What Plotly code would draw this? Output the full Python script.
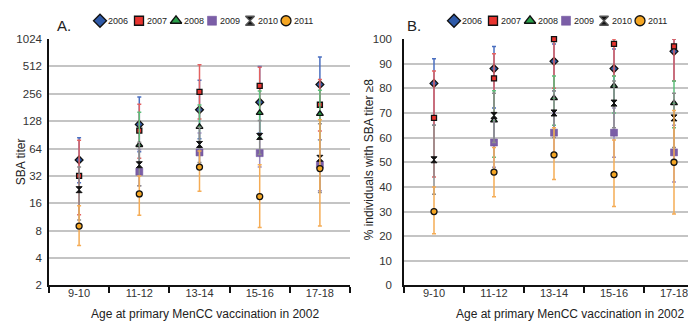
import math
import plotly.graph_objects as go

# ---------------- data ----------------
ages = ["9-10", "11-12", "13-14", "15-16", "17-18"]
years = ["2006", "2007", "2008", "2009", "2010", "2011"]

# Panel A: SBA titer (GMT) with 95% CI (upper / lower)
titer_2006 = [48, 118, 171, 207, 324]
titer_2006_hi = [84, 236, 360, 512, 648]
titer_2006_lo = [27, 59, 82, 95, 160]
titer_2007 = [32, 101, 269, 313, 194]
titer_2007_hi = [79, 197, 533, 500, 367]
titer_2007_lo = [12, 50, 135, 160, 100]
titer_2008 = [None, 70, 111, 158, 154]
titer_2008_hi = [None, 160, 193, 275, 280]
titer_2008_lo = [None, 38, 60, 85, 80]
titer_2009 = [None, 35.6, 58, 57, 42.5]
titer_2009_hi = [None, 62, 95, 90, 80]
titer_2009_lo = [None, 25, 40, 40, 22]
titer_2010 = [22.6, 42.5, 71, 87, 50]
titer_2010_hi = [40, 75, 110, 130, 120]
titer_2010_lo = [10.5, 25, 45, 55, 21]
titer_2011 = [9, 20.3, 40, 19, 38.6]
titer_2011_hi = [15, 32, 60, 42.5, 133]
titer_2011_lo = [5.5, 11.8, 21.7, 8.7, 9]

# Panel B: % individuals with SBA titer >=8 with 95% CI
pct_2006 = [82, 88, 91, 88, 95]
pct_2006_hi = [92, 97, 98, 96, 100]
pct_2006_lo = [65, 72, 79, 75, 83]
pct_2007 = [68, 84, 100, 98, 97]
pct_2007_hi = [87, 94, 100, 100, 100]
pct_2007_lo = [44, 70, 80, 85, 83]
pct_2008 = [None, 67, 76, 81, 74]
pct_2008_hi = [None, 79, 85, 85, 83]
pct_2008_lo = [None, 52, 65, 70, 64]
pct_2009 = [None, 58, 62, 62, 54]
pct_2009_hi = [None, 68, 70, 72, 65]
pct_2009_lo = [None, 48, 52, 52, 42]
pct_2010 = [51, 69, 70, 74, 68]
pct_2010_hi = [65, 78, 79, 83, 78]
pct_2010_lo = [37, 58, 60, 64, 56]
pct_2011 = [30, 46, 53, 45, 50]
pct_2011_hi = [40, 56, 64, 59, 71]
pct_2011_lo = [21, 36, 43, 32, 29]

titer_ticks = [2, 4, 8, 16, 32, 64, 128, 256, 512, 1024]
pct_ticks = [0, 10, 20, 30, 40, 50, 60, 70, 80, 90, 100]

# ---------------- styles ----------------
style = {
    "2006": dict(symbol="diamond", size=6, fill="#2f5aa8", line="#111111", lw=1.3, err="#4a6fc0", lsize=10),
    "2007": dict(symbol="square", size=5, fill="#e8342f", line="#111111", lw=1.3, err="#e36262", lsize=9),
    "2008": dict(symbol="triangle-up", size=6, fill="#2aa04a", line="#111111", lw=1.3, err="#5cbf7a", lsize=10),
    "2009": dict(symbol="square", size=7, fill="#7b5ea7", line="#6a4f98", lw=0.5, err="#9c8cbf", lsize=9),
    "2010": dict(symbol="hourglass", size=6, fill="#111111", line="#111111", lw=1, err="#8c8c8c", lsize=9),
    "2011": dict(symbol="circle", size=6, fill="#f5a623", line="#111111", lw=1.3, err="#f5ac55", lsize=10),
}

A = {
    "2006": (titer_2006, titer_2006_hi, titer_2006_lo),
    "2007": (titer_2007, titer_2007_hi, titer_2007_lo),
    "2008": (titer_2008, titer_2008_hi, titer_2008_lo),
    "2009": (titer_2009, titer_2009_hi, titer_2009_lo),
    "2010": (titer_2010, titer_2010_hi, titer_2010_lo),
    "2011": (titer_2011, titer_2011_hi, titer_2011_lo),
}
B = {
    "2006": (pct_2006, pct_2006_hi, pct_2006_lo),
    "2007": (pct_2007, pct_2007_hi, pct_2007_lo),
    "2008": (pct_2008, pct_2008_hi, pct_2008_lo),
    "2009": (pct_2009, pct_2009_hi, pct_2009_lo),
    "2010": (pct_2010, pct_2010_hi, pct_2010_lo),
    "2011": (pct_2011, pct_2011_hi, pct_2011_lo),
}


def errs(v, hi, lo):
    up = [None if a is None else h - a for a, h in zip(v, hi)]
    dn = [None if a is None else a - l for a, l in zip(v, lo)]
    return up, dn


W, H = 696, 321
FONT = "Liberation Sans, Arial, sans-serif"
fig = go.Figure()

for panel, data, xa, ya in [("A", A, "x", "y"), ("B", B, "x2", "y2")]:
    for yr in years:
        v, hi, lo = data[yr]
        up, dn = errs(v, hi, lo)
        s = style[yr]
        fig.add_trace(go.Scatter(
            x=ages, y=v, xaxis=xa, yaxis=ya, mode="markers", showlegend=False,
            marker=dict(symbol=s["symbol"], size=s["size"], color=s["fill"],
                        line=dict(color=s["line"], width=s["lw"])),
            error_y=dict(type="data", symmetric=False, array=up, arrayminus=dn,
                         color=s["err"], thickness=1.5, width=2),
            cliponaxis=False,
        ))

# legend rows drawn on a hidden pixel-scaled axis
legend_offsets = [0, 39, 76, 112, 150, 186]
legend_starts = {"A": 92, "B": 446}
for panel, x0 in legend_starts.items():
    xs = [x0 + o for o in legend_offsets]
    for yr, xx in zip(years, xs):
        s = style[yr]
        fig.add_trace(go.Scatter(
            x=[xx], y=[7], xaxis="x3", yaxis="y3", mode="markers", showlegend=False,
            marker=dict(symbol=s["symbol"], size=s["lsize"], color=s["fill"],
                        line=dict(color=s["line"] if yr != "2010" else "#555555",
                                  width=1.3 if yr != "2009" else 0.5)),
            hoverinfo="skip", cliponaxis=False,
        ))
        fig.add_annotation(x=xx + 6, y=7, xref="x3", yref="y3", text=yr, showarrow=False,
                           xanchor="left", yanchor="middle",
                           font=dict(family=FONT, size=9, color="#222222"))


def fx(px):
    return px / W


def fy(py):
    return 1 - py / H


ydom = [fy(282), fy(26)]
grid = "#c4c4c4"
common_x = dict(type="category", categoryorder="array", categoryarray=ages,
                range=[-0.5, 4.5], showgrid=False, showline=True, linecolor="#111111",
                linewidth=1.5, ticks="outside", tickson="boundaries", ticklen=6,
                tickcolor="#111111", tickwidth=1.5, zeroline=False, ticklabelstandoff=-3,
                tickfont=dict(family=FONT, size=11, color="#333333"))

fig.update_layout(
    width=W, height=H, margin=dict(l=0, r=0, t=0, b=0),
    paper_bgcolor="white", plot_bgcolor="white", showlegend=False,
    xaxis=dict(domain=[fx(41), fx(342)], anchor="y", **common_x),
    xaxis2=dict(domain=[fx(396), 1.0], anchor="y2", **common_x),
    yaxis=dict(domain=ydom, anchor="x", type="log",
               range=[math.log10(2), math.log10(1024)],
               tickvals=titer_ticks, ticktext=[str(t) for t in titer_ticks],
               showgrid=True, gridcolor=grid, gridwidth=1.5,
               showline=True, linecolor="#111111", linewidth=1.5, ticks="",
               ticklabelstandoff=3, zeroline=False,
               tickfont=dict(family=FONT, size=11.5, color="#333333")),
    yaxis2=dict(domain=ydom, anchor="x2", range=[0, 100],
                tickvals=pct_ticks, showgrid=True, gridcolor=grid, gridwidth=1.5,
                showline=True, linecolor="#111111", linewidth=1.5, ticks="",
                ticklabelstandoff=8, zeroline=False,
                tickfont=dict(family=FONT, size=11.5, color="#333333")),
    xaxis3=dict(domain=[0, 1], range=[0, W], visible=False, fixedrange=True, anchor="y3"),
    yaxis3=dict(domain=[fy(26), 1], range=[26, 0], visible=False, fixedrange=True, anchor="x3"),
)

ann_font = dict(family=FONT, size=12, color="#222222")
fig.add_annotation(x=fx(47), y=fy(12), xref="paper", yref="paper", text="A.", showarrow=False,
                   xanchor="left", yanchor="middle", font=dict(family=FONT, size=15, color="#222222"))
fig.add_annotation(x=fx(397), y=fy(12), xref="paper", yref="paper", text="B.", showarrow=False,
                   xanchor="left", yanchor="middle", font=dict(family=FONT, size=15, color="#222222"))
fig.add_annotation(x=fx(197), y=fy(312), xref="paper", yref="paper",
                   text="Age at primary MenCC vaccination in 2002", showarrow=False,
                   xanchor="center", yanchor="middle", font=ann_font)
fig.add_annotation(x=fx(562), y=fy(312), xref="paper", yref="paper",
                   text="Age at primary MenCC vaccination in 2002", showarrow=False,
                   xanchor="center", yanchor="middle", font=ann_font)
fig.add_annotation(x=fx(13), y=fy(154), xref="paper", yref="paper", text="SBA titer",
                   textangle=-90, showarrow=False, xanchor="center", yanchor="middle", font=ann_font)
fig.add_annotation(x=fx(361), y=fy(151), xref="paper", yref="paper",
                   text="% individuals with SBA titer ≥8",
                   textangle=-90, showarrow=False, xanchor="center", yanchor="middle", font=ann_font)

fig.write_html("out.html")
